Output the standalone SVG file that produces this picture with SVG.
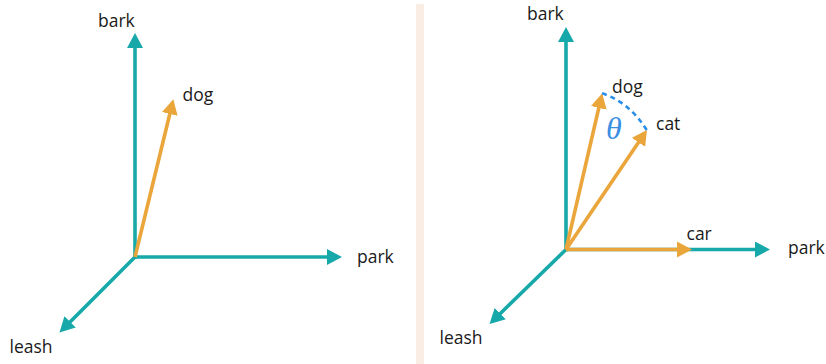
<svg xmlns="http://www.w3.org/2000/svg" width="826" height="364" viewBox="0 0 826 364">
  <style>
    .axis { stroke: #17a9aa; stroke-width: 3.6; fill: none; }
    .vec { stroke: #eaa53b; stroke-width: 3.6; fill: none; }
    .lbl { font-family: "Open Sans", "Noto Sans", sans-serif; font-size: 17.5px; fill: #1a1a1a; }
    .theta { font-family: "Liberation Serif", "DejaVu Serif", serif; font-style: italic; font-size: 32px; fill: #3a8fe2; }
    .arc { stroke: #2a8fe8; stroke-width: 2.6; fill: none; stroke-dasharray: 5 4; }
  </style>
  <defs>
    <marker id="ht" markerUnits="userSpaceOnUse" markerWidth="16" markerHeight="16" refX="11" refY="8" orient="auto" viewBox="0 0 16 16">
      <path d="M0,0 L15,8 L0,16 z" fill="#17a9aa"/>
    </marker>
    <marker id="ho" markerUnits="userSpaceOnUse" markerWidth="16" markerHeight="16" refX="11" refY="8" orient="auto" viewBox="0 0 16 16">
      <path d="M0,0 L15,8 L0,16 z" fill="#eaa53b"/>
    </marker>
  </defs>
  <rect x="416" y="4" width="8" height="360" fill="#faeee4"/>

  <g id="connectors">
    <!-- left -->
    <line class="axis" x1="135" y1="258.8" x2="135" y2="37" marker-end="url(#ht)"/>
    <line class="axis" x1="133.2" y1="257" x2="338" y2="257" marker-end="url(#ht)"/>
    <line class="axis" x1="135" y1="257" x2="62.3" y2="329.7" marker-end="url(#ht)"/>
    <line class="vec" x1="135" y1="257" x2="172.4" y2="103.2" marker-end="url(#ho)"/>
    <!-- right -->
    <line class="axis" x1="566" y1="251.3" x2="566" y2="31" marker-end="url(#ht)"/>
    <line class="axis" x1="564.2" y1="249.5" x2="766" y2="249.5" marker-end="url(#ht)"/>
    <line class="axis" x1="566" y1="249.5" x2="492.4" y2="321.2" marker-end="url(#ht)"/>
    <line class="vec" x1="566" y1="249.5" x2="688" y2="249.5" marker-end="url(#ho)"/>
    <line class="vec" x1="566" y1="249.5" x2="601.3" y2="97.2" marker-end="url(#ho)"/>
    <line class="vec" x1="566" y1="249.5" x2="644.7" y2="133.3" marker-end="url(#ho)"/>
    <path class="arc" d="M602,93.3 Q629,102 646.7,130"/>
  </g>

  <g id="left-bark"><text class="lbl" x="98" y="27">bark</text></g>
  <g id="left-dog"><text class="lbl" x="182.5" y="101">dog</text></g>
  <g id="left-park"><text class="lbl" x="357" y="263">park</text></g>
  <g id="left-leash"><text class="lbl" x="9.5" y="352.5">leash</text></g>

  <g id="right-bark"><text class="lbl" x="527" y="19.5">bark</text></g>
  <g id="right-dog"><text class="lbl" x="612" y="93.3">dog</text></g>
  <g id="right-cat"><text class="lbl" x="656" y="130">cat</text></g>
  <g id="right-car"><text class="lbl" x="686.5" y="240">car</text></g>
  <g id="right-park"><text class="lbl" x="788" y="254">park</text></g>
  <g id="right-leash"><text class="lbl" x="439.5" y="343.5">leash</text></g>
  <g id="theta"><text class="theta" x="606" y="139">θ</text></g>
</svg>
